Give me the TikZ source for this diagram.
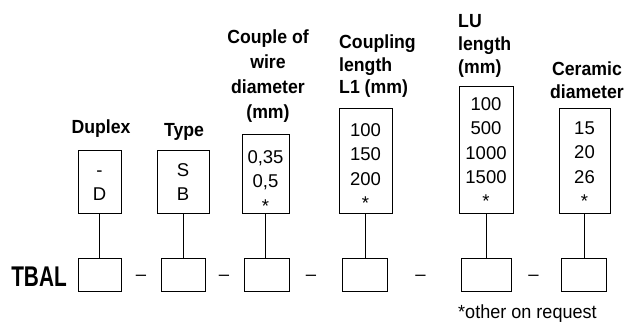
\documentclass[tikz,border=0pt]{standalone}
\usepackage{fontspec}
\setmainfont{Liberation Sans}
\newfontfamily\lblfont[FakeStretch=0.93]{Liberation Sans}
\newfontfamily\tbalfont[FakeStretch=0.73]{Liberation Sans}
\newfontfamily\notefont[FakeStretch=0.95]{Liberation Sans}
\begin{document}
\begin{tikzpicture}[x=1pt,y=-1pt,
  box/.style={draw,line width=0.8pt,inner sep=0pt},
  valtext/.style={inner sep=0pt,anchor=north,align=center,font=\fontsize{18.5}{24.3}\selectfont},
  lbltext/.style={inner sep=0pt,font=\lblfont\bfseries\fontsize{19}{23}\selectfont},
  sep/.style={inner sep=0pt,anchor=base,font=\fontsize{18.5}{22}\selectfont},
  link/.style={line width=0.8pt}]
\useasboundingbox (0,0) rectangle (626,323);
% top value boxes
\node[box,minimum width=43pt,minimum height=63pt] (dup) at (99.5,181.5) {};
\node[box,minimum width=52pt,minimum height=63pt] (typ) at (183,181.5) {};
\node[box,minimum width=47pt,minimum height=79pt] (cpl) at (265.5,173.5) {};
\node[box,minimum width=53pt,minimum height=105pt] (cl) at (365.5,160.5) {};
\node[box,minimum width=54pt,minimum height=127pt] (lu) at (486,149.5) {};
\node[box,minimum width=51pt,minimum height=105pt] (cer) at (584.5,160.5) {};
% bottom code boxes
\node[box,minimum width=43pt,minimum height=33pt] (b1) at (99.5,274.5) {};
\node[box,minimum width=44pt,minimum height=33pt] (b2) at (183,274.5) {};
\node[box,minimum width=45pt,minimum height=33pt] (b3) at (266.5,274.5) {};
\node[box,minimum width=45pt,minimum height=33pt] (b4) at (364.5,274.5) {};
\node[box,minimum width=50pt,minimum height=33pt] (b5) at (486,274.5) {};
\node[box,minimum width=45pt,minimum height=33pt] (b6) at (583.5,274.5) {};
% connectors
\draw[link] (dup.south) -- (dup.south |- b1.north);
\draw[link] (typ.south) -- (typ.south |- b2.north);
\draw[link] (cpl.south) -- (cpl.south |- b3.north);
\draw[link] (cl.south) -- (cl.south |- b4.north);
\draw[link] (lu.south) -- (lu.south |- b5.north);
\draw[link] (cer.south) -- (cer.south |- b6.north);
% values
\node[valtext] (vdup) at (99.5,163.5) {\vphantom{0}-\\D};
\node[valtext] (vtyp) at (183,163.5) {S\\B};
\node[valtext] (vcpl) at (265.5,150.5) {0,35\\0,5\\*};
\node[valtext] (vcl) at (365.5,123.5) {100\\150\\200\\*};
\node[valtext] (vlu) at (486,97.5) {100\\500\\1000\\1500\\*};
\node[valtext] (vcer) at (584.5,121.5) {15\\20\\26\\*};
% labels
\node[lbltext,anchor=north] (ldup) at (101,120) {Duplex};
\node[lbltext,anchor=north] (ltyp) at (184,123) {Type};
\node[lbltext,anchor=north,align=center,font=\lblfont\bfseries\fontsize{19}{25}\selectfont] (lcpl) at (268,30) {Couple of\\wire\\diameter\\(mm)};
\node[lbltext,anchor=north west,align=left,font=\lblfont\bfseries\fontsize{19}{22.5}\selectfont] (lcl) at (339,35) {Coupling\\length\\L1 (mm)};
\node[lbltext,anchor=north west,align=left] (llu) at (458,14) {LU\\length\\(mm)};
\node[lbltext,anchor=north,align=center] (lcer) at (587,62) {Ceramic\\diameter};
% code line
\node[inner sep=0pt,font=\tbalfont\bfseries\fontsize{28.5}{30}\selectfont] (tbal) at (39,277) {TBAL};
\node[sep] (d1) at (141,280.5) {–};
\node[sep] (d2) at (224,280.5) {–};
\node[sep] (d3) at (311,280.5) {–};
\node[sep] (d4) at (420.5,280.5) {–};
\node[sep] (d5) at (533.5,280.5) {–};
\node[inner sep=0pt,anchor=base west,font=\notefont\fontsize{19}{22}\selectfont] (note) at (458,318) {*other on request};
\end{tikzpicture}
\end{document}
